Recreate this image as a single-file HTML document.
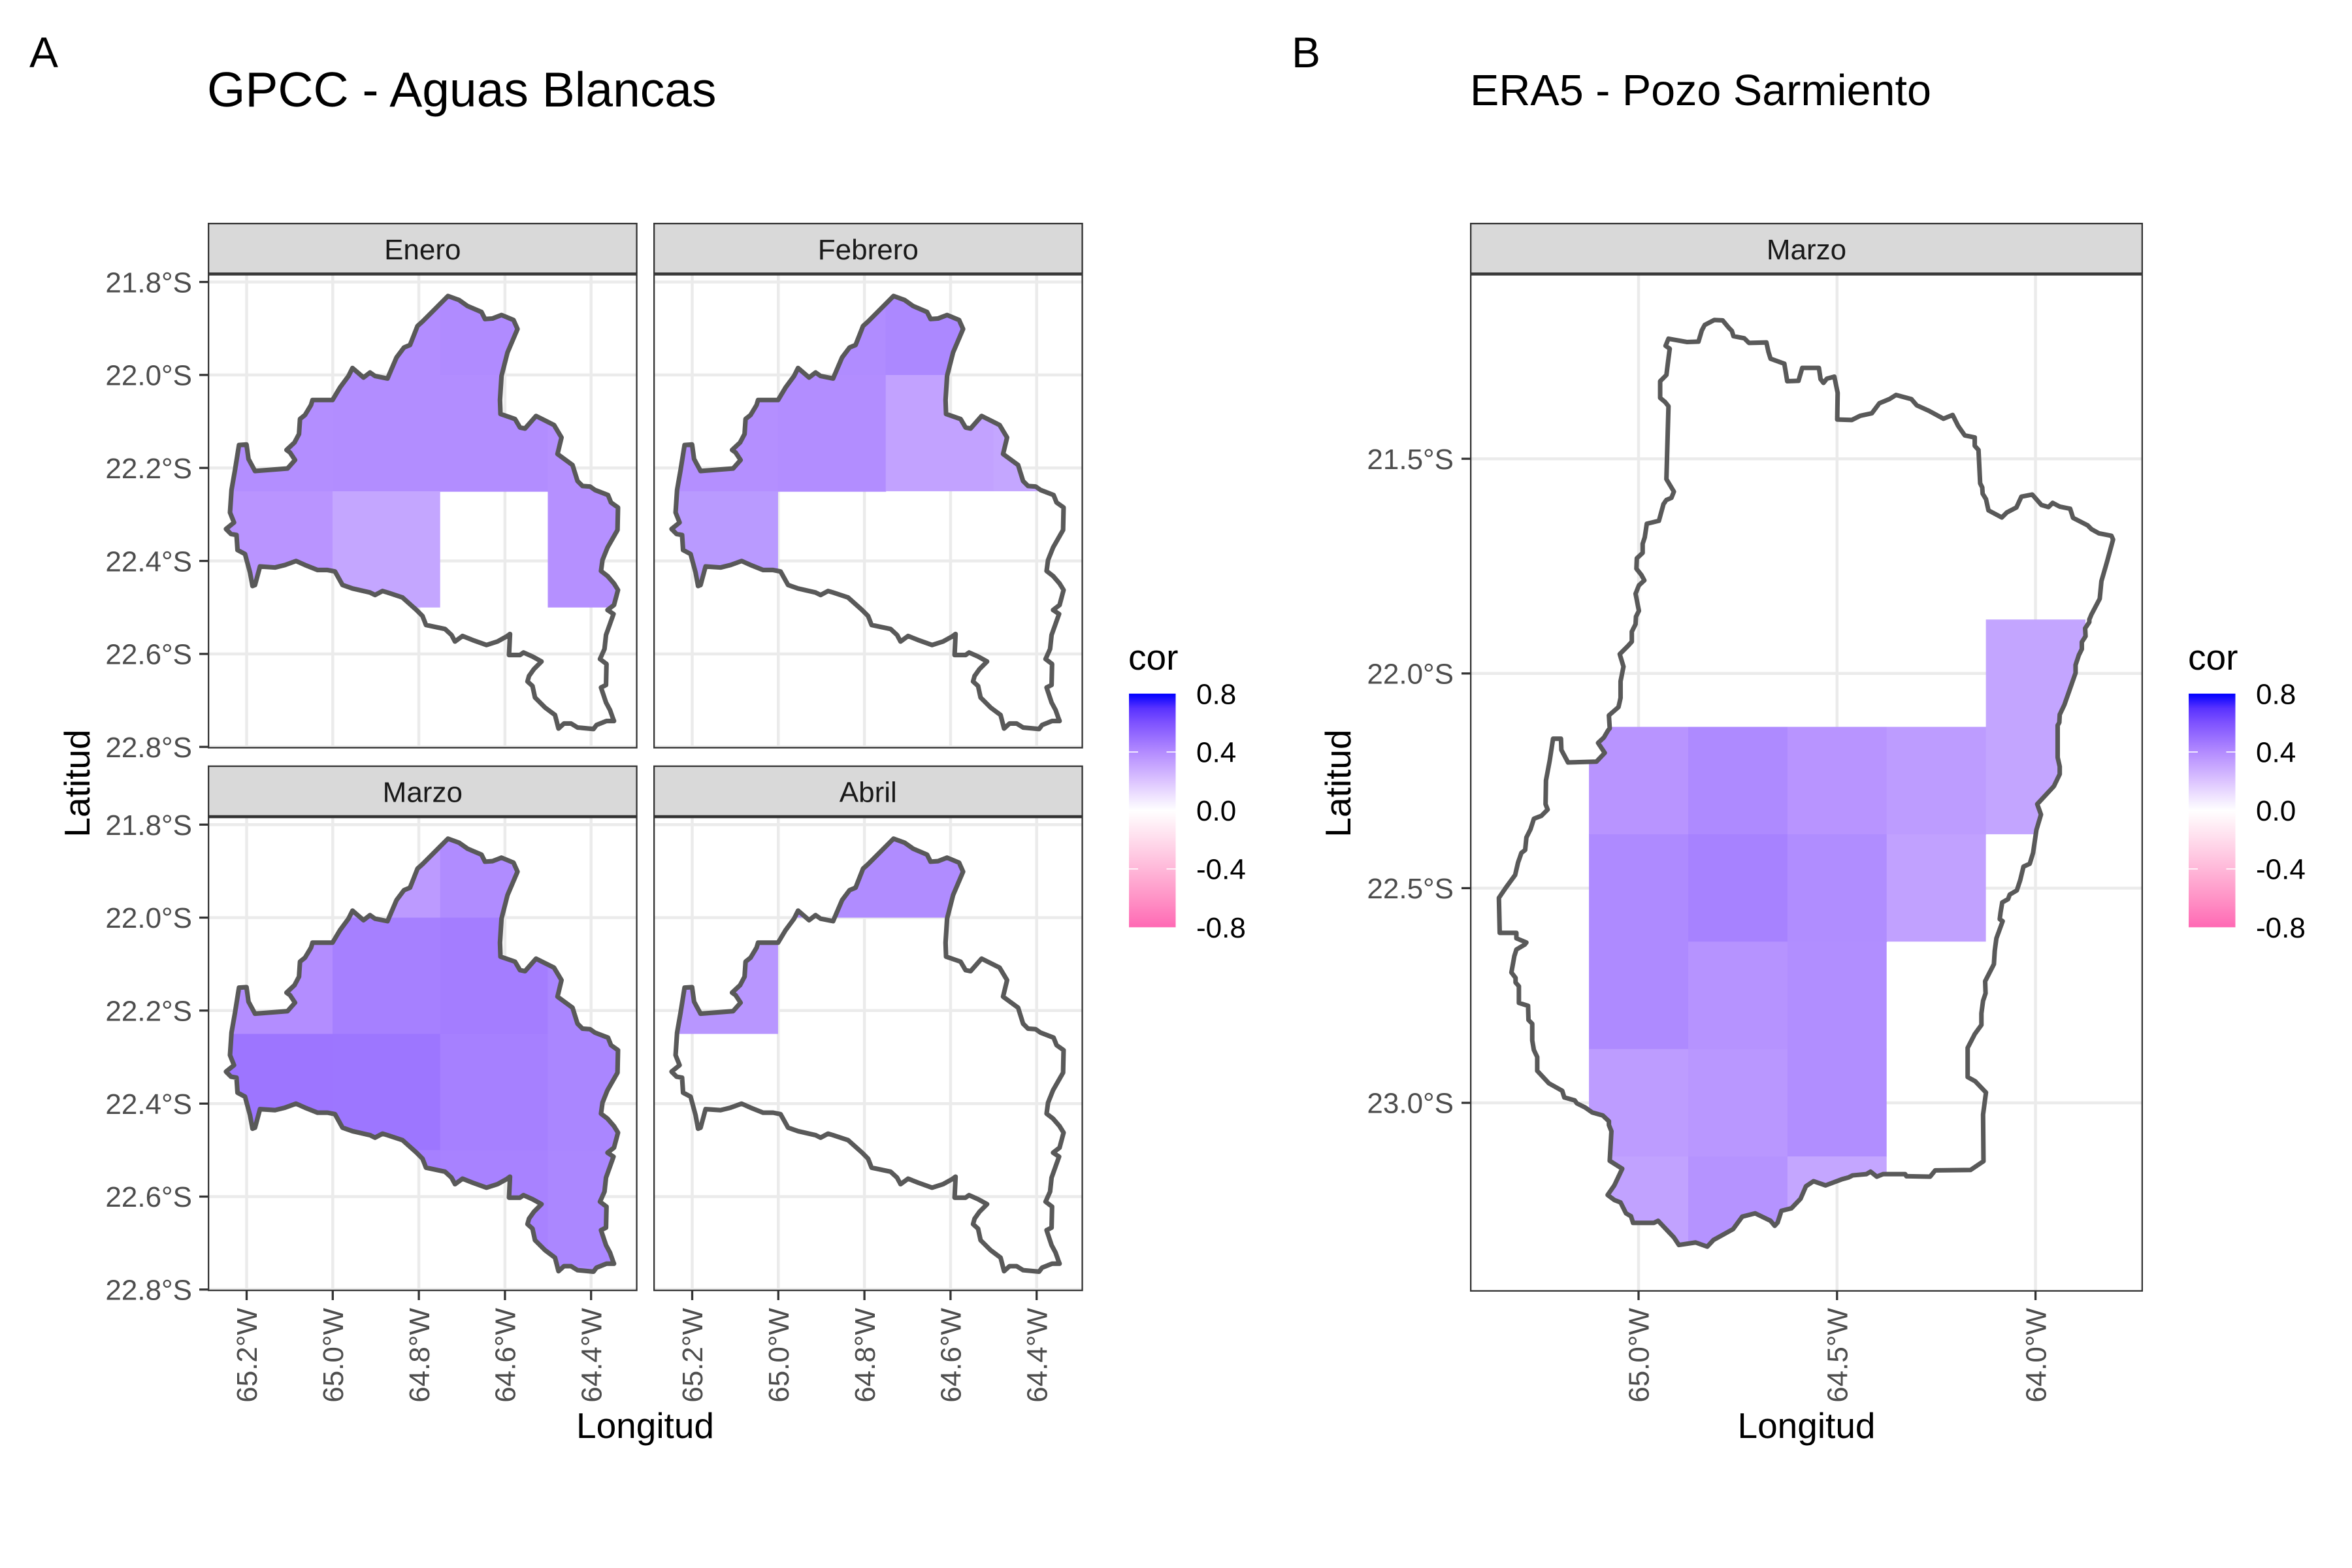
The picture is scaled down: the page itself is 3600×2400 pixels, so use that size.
<!DOCTYPE html>
<html>
<head>
<meta charset="utf-8">
<style>
html,body{margin:0;padding:0;background:#fff;}
svg{display:block;}
</style>
</head>
<body>
<svg xmlns="http://www.w3.org/2000/svg" xmlns:xlink="http://www.w3.org/1999/xlink" width="3600" height="2400" viewBox="0 0 3600 2400" font-family="'Liberation Sans', Arial, sans-serif">
<rect x="0" y="0" width="3600" height="2400" fill="#ffffff"/>
<defs>
  <linearGradient id="lg" x1="0" y1="0" x2="0" y2="1">
    <stop offset="0" stop-color="#0000ff"/>
    <stop offset="0.0625" stop-color="rgb(89,50,255)"/>
    <stop offset="0.125" stop-color="rgb(126,82,255)"/>
    <stop offset="0.25" stop-color="rgb(179,139,255)"/>
    <stop offset="0.375" stop-color="rgb(220,196,255)"/>
    <stop offset="0.4375" stop-color="rgb(238,226,255)"/>
    <stop offset="0.5" stop-color="#ffffff"/>
    <stop offset="0.625" stop-color="rgb(255,220,236)"/>
    <stop offset="0.75" stop-color="rgb(255,184,217)"/>
    <stop offset="0.875" stop-color="rgb(255,147,198)"/>
    <stop offset="1" stop-color="rgb(255,105,180)"/>
  </linearGradient>
  <polygon id="polyA" points="896,592 918,600 935,612 963,624 970,638 985,637 1003,630 1027,640 1035,658 1015,705 1003,752 1000,800 1001,828 1030,838 1040,855 1050,857 1072,832 1088,840 1108,850 1123,875 1115,908 1145,930 1155,962 1165,972 1180,973 1190,980 1216,990 1222,1005 1236,1015 1235,1060 1215,1095 1205,1120 1202,1142 1215,1152 1228,1167 1236,1180 1228,1210 1215,1220 1227,1228 1212,1270 1209,1298 1200,1318 1213,1328 1212,1370 1202,1375 1212,1405 1220,1420 1226,1437 1228,1442 1213,1442 1193,1450 1187,1458 1155,1455 1142,1447 1128,1447 1117,1457 1110,1430 1090,1415 1070,1395 1065,1372 1055,1363 1058,1352 1068,1338 1083,1323 1065,1313 1047,1305 1040,1310 1018,1310 1020,1268 1013,1273 995,1283 973,1290 945,1280 925,1272 910,1283 903,1270 890,1258 852,1250 845,1232 833,1220 805,1195 775,1185 765,1182 750,1190 740,1185 705,1177 685,1170 670,1143 655,1140 635,1140 610,1130 592,1122 570,1130 550,1135 520,1133 510,1170 505,1172 500,1145 490,1108 475,1100 473,1070 462,1068 452,1058 468,1045 460,1025 463,980 470,940 478,890 493,889 497,918 510,942 575,937 590,920 580,905 573,900 589,885 598,868 600,838 610,830 622,810 625,800 665,800 680,775 697,752 705,736 727,755 740,745 750,752 775,757 793,715 808,695 820,690 835,652 845,643 870,618"/>
  <polygon id="polyB" points="555,78 575,79 590,97 597,104 601,117 627,122 638,133 680,132 685,155 690,171 723,183 730,225 757,224 766,193 806,193 810,220 817,229 825,219 843,214 851,253 850,317 885,318 905,308 933,302 951,278 975,268 991,258 1028,268 1041,283 1070,296 1105,315 1127,306 1140,332 1156,355 1180,360 1180,380 1189,390 1193,470 1198,480 1199,495 1207,508 1213,535 1245,552 1257,540 1280,528 1292,502 1318,497 1340,522 1357,527 1367,517 1384,526 1409,531 1416,553 1451,571 1460,580 1478,590 1508,596 1512,605 1497,660 1484,705 1480,747 1460,785 1455,797 1455,803 1445,818 1446,837 1437,851 1437,868 1430,882 1422,906 1422,925 1395,1002 1384,1025 1383,1044 1379,1051 1379,1128 1384,1150 1384,1168 1370,1197 1330,1240 1339,1265 1328,1302 1320,1357 1312,1383 1297,1390 1289,1423 1281,1447 1264,1457 1260,1468 1246,1476 1242,1500 1240,1516 1247,1521 1232,1562 1228,1592 1226,1624 1205,1665 1206,1694 1200,1712 1196,1742 1196,1770 1180,1792 1163,1825 1163,1895 1181,1905 1207,1932 1200,1985 1201,2097 1170,2118 1085,2119 1073,2134 1016,2133 1013,2128 960,2128 945,2134 930,2122 920,2128 887,2131 877,2136 862,2140 822,2155 793,2145 775,2157 762,2187 740,2210 716,2216 707,2244 700,2252 690,2240 653,2222 622,2230 600,2260 553,2286 538,2302 510,2292 470,2298 458,2280 420,2240 410,2245 360,2245 355,2229 343,2222 330,2196 315,2190 299,2178 315,2155 334,2115 304,2096 308,2025 302,2010 302,2001 287,1987 262,1980 245,1968 225,1958 220,1951 195,1944 190,1928 158,1910 130,1880 130,1847 122,1830 118,1807 118,1767 109,1758 108,1724 86,1717 86,1677 78,1668 78,1657 68,1644 75,1605 80,1589 100,1577 104,1572 80,1562 80,1549 40,1549 38,1465 55,1440 77,1410 84,1380 92,1357 101,1350 104,1320 114,1300 122,1275 140,1268 155,1253 150,1240 151,1183 160,1135 168,1083 187,1083 188,1110 204,1140 272,1138 292,1117 276,1093 290,1080 300,1063 304,1058 302,1027 325,1007 330,985 330,945 337,910 328,880 348,860 357,850 357,826 366,808 367,790 374,776 366,735 374,715 387,703 380,690 368,675 369,650 383,637 383,615 388,600 393,567 422,560 433,520 440,510 452,505 458,490 440,460 445,285 437,275 425,265 425,225 440,210 445,170 448,147 438,140 445,123 490,131 517,130 525,103 532,90"/>
  <clipPath id="cpA" clipPathUnits="userSpaceOnUse"><use xlink:href="#polyA"/></clipPath>
  <clipPath id="cpB" clipPathUnits="userSpaceOnUse"><use xlink:href="#polyB"/></clipPath>
  <g id="gridA" stroke="#ebebeb" stroke-width="4.5">
    <line x1="377.5" y1="419.4" x2="377.5" y2="1145.6"/>
    <line x1="509.3" y1="419.4" x2="509.3" y2="1145.6"/>
    <line x1="641.1" y1="419.4" x2="641.1" y2="1145.6"/>
    <line x1="772.9" y1="419.4" x2="772.9" y2="1145.6"/>
    <line x1="904.7" y1="419.4" x2="904.7" y2="1145.6"/>
    <line x1="318" y1="431.6" x2="975.7" y2="431.6"/>
    <line x1="318" y1="573.9" x2="975.7" y2="573.9"/>
    <line x1="318" y1="716.2" x2="975.7" y2="716.2"/>
    <line x1="318" y1="858.6" x2="975.7" y2="858.6"/>
    <line x1="318" y1="1000.9" x2="975.7" y2="1000.9"/>
    <line x1="318" y1="1143.2" x2="975.7" y2="1143.2"/>
  </g>
</defs>

<!-- Titles -->
<text x="45" y="103" font-size="66" fill="#000">A</text>
<text x="1977" y="103" font-size="66" fill="#000">B</text>
<text x="317" y="163" font-size="75" fill="#000">GPCC - Aguas Blancas</text>
<text x="2250" y="161" font-size="66.5" fill="#000">ERA5 - Pozo Sarmiento</text>

<!-- ===== Panel A: Enero ===== -->
<g>
  <rect x="318" y="341" width="657.7" height="78.4" fill="#d9d9d9"/>
  <rect x="318" y="419.4" width="657.7" height="726.2" fill="#ffffff"/>
  <use xlink:href="#gridA"/>
  <g transform="scale(0.76531)">
    <g clip-path="url(#cpA)">
      <rect x="665" y="517.5" width="216" height="233.5" fill="#b28dff"/>
      <rect x="880.3" y="517.5" width="216" height="233.5" fill="#b08bff"/>
      <rect x="449.9" y="750" width="216" height="233.5" fill="#b38eff"/>
      <rect x="665" y="750" width="216" height="233.5" fill="#b28dff"/>
      <rect x="880.3" y="750" width="216" height="233.5" fill="#b28dff"/>
      <rect x="1095.6" y="750" width="216" height="233.5" fill="#b590ff"/>
      <rect x="449.9" y="982.5" width="216" height="232.5" fill="#b994ff"/>
      <rect x="665" y="982.5" width="215.3" height="232.5" fill="#c4a6ff"/>
      <rect x="1095.6" y="982.5" width="216" height="232.5" fill="#b590ff"/>
    </g>
    <use xlink:href="#polyA" fill="none" stroke="#595959" stroke-width="9.3" stroke-linejoin="round"/>
  </g>
  <rect x="319.15" y="342.15" width="655.4" height="76.1" fill="none" stroke="#333333" stroke-width="2.3"/>
  <rect x="319.15" y="420.55" width="655.4" height="723.9" fill="none" stroke="#333333" stroke-width="2.3"/>
  <text x="646.8" y="397" font-size="44" fill="#1a1a1a" text-anchor="middle">Enero</text>
</g>

<!-- ===== Panel A: Febrero ===== -->
<g transform="translate(682,0)">
  <rect x="318" y="341" width="657.7" height="78.4" fill="#d9d9d9"/>
  <rect x="318" y="419.4" width="657.7" height="726.2" fill="#ffffff"/>
  <use xlink:href="#gridA"/>
  <g transform="scale(0.76531)">
    <g clip-path="url(#cpA)">
      <rect x="665" y="517.5" width="216" height="233.5" fill="#b08cff"/>
      <rect x="880.3" y="517.5" width="216" height="233.5" fill="#ac88ff"/>
      <rect x="449.9" y="750" width="216" height="233.5" fill="#b48fff"/>
      <rect x="665" y="750" width="216" height="233.5" fill="#b28dff"/>
      <rect x="880.3" y="750" width="216" height="232.5" fill="#c2a2ff"/>
      <rect x="1095.6" y="750" width="216" height="232.5" fill="#c4a6ff"/>
      <rect x="449.9" y="982.5" width="215.1" height="232.5" fill="#b99aff"/>
    </g>
    <use xlink:href="#polyA" fill="none" stroke="#595959" stroke-width="9.3" stroke-linejoin="round"/>
  </g>
  <rect x="319.15" y="342.15" width="655.4" height="76.1" fill="none" stroke="#333333" stroke-width="2.3"/>
  <rect x="319.15" y="420.55" width="655.4" height="723.9" fill="none" stroke="#333333" stroke-width="2.3"/>
  <text x="646.8" y="397" font-size="44" fill="#1a1a1a" text-anchor="middle">Febrero</text>
</g>

<!-- ===== Panel A: Marzo ===== -->
<g transform="translate(0,830.6)">
  <rect x="318" y="341" width="657.7" height="78.4" fill="#d9d9d9"/>
  <rect x="318" y="419.4" width="657.7" height="726.2" fill="#ffffff"/>
  <use xlink:href="#gridA"/>
  <g transform="scale(0.76531)">
    <g clip-path="url(#cpA)">
      <rect x="665" y="517.5" width="216" height="233.5" fill="#bc9aff"/>
      <rect x="880.3" y="517.5" width="216" height="233.5" fill="#b08cff"/>
      <rect x="449.9" y="750" width="216" height="233.5" fill="#b38dff"/>
      <rect x="665" y="750" width="216" height="233.5" fill="#a680ff"/>
      <rect x="880.3" y="750" width="216" height="233.5" fill="#a47dff"/>
      <rect x="1095.6" y="750" width="216" height="233.5" fill="#aa86ff"/>
      <rect x="449.9" y="982.5" width="216" height="233.5" fill="#9d75ff"/>
      <rect x="665" y="982.5" width="216" height="233.5" fill="#9d76ff"/>
      <rect x="880.3" y="982.5" width="216" height="233.5" fill="#a680ff"/>
      <rect x="1095.6" y="982.5" width="216" height="233.5" fill="#aa86ff"/>
      <rect x="665" y="1215" width="216" height="233.5" fill="#a680ff"/>
      <rect x="880.3" y="1215" width="216" height="233.5" fill="#a882ff"/>
      <rect x="1095.6" y="1215" width="216" height="233.5" fill="#ab87ff"/>
      <rect x="880.3" y="1447.5" width="216" height="232.5" fill="#ab87ff"/>
      <rect x="1095.6" y="1447.5" width="216" height="232.5" fill="#ae8bff"/>
    </g>
    <use xlink:href="#polyA" fill="none" stroke="#595959" stroke-width="9.3" stroke-linejoin="round"/>
  </g>
  <rect x="319.15" y="342.15" width="655.4" height="76.1" fill="none" stroke="#333333" stroke-width="2.3"/>
  <rect x="319.15" y="420.55" width="655.4" height="723.9" fill="none" stroke="#333333" stroke-width="2.3"/>
  <text x="646.8" y="397" font-size="44" fill="#1a1a1a" text-anchor="middle">Marzo</text>
</g>

<!-- ===== Panel A: Abril ===== -->
<g transform="translate(682,830.6)">
  <rect x="318" y="341" width="657.7" height="78.4" fill="#d9d9d9"/>
  <rect x="318" y="419.4" width="657.7" height="726.2" fill="#ffffff"/>
  <use xlink:href="#gridA"/>
  <g transform="scale(0.76531)">
    <g clip-path="url(#cpA)">
      <rect x="665" y="517.5" width="216" height="232.5" fill="#b08cff"/>
      <rect x="880.3" y="517.5" width="216" height="232.5" fill="#b08cff"/>
      <rect x="449.9" y="750" width="215.1" height="232.5" fill="#b896ff"/>
    </g>
    <use xlink:href="#polyA" fill="none" stroke="#595959" stroke-width="9.3" stroke-linejoin="round"/>
  </g>
  <rect x="319.15" y="342.15" width="655.4" height="76.1" fill="none" stroke="#333333" stroke-width="2.3"/>
  <rect x="319.15" y="420.55" width="655.4" height="723.9" fill="none" stroke="#333333" stroke-width="2.3"/>
  <text x="646.8" y="397" font-size="44" fill="#1a1a1a" text-anchor="middle">Abril</text>
</g>

<!-- A y axis ticks & labels -->
<g stroke="#333333" stroke-width="3.3">
  <line x1="305" y1="431.6" x2="318" y2="431.6"/>
  <line x1="305" y1="573.9" x2="318" y2="573.9"/>
  <line x1="305" y1="716.2" x2="318" y2="716.2"/>
  <line x1="305" y1="858.6" x2="318" y2="858.6"/>
  <line x1="305" y1="1000.9" x2="318" y2="1000.9"/>
  <line x1="305" y1="1143.2" x2="318" y2="1143.2"/>
  <line x1="305" y1="1262.2" x2="318" y2="1262.2"/>
  <line x1="305" y1="1404.5" x2="318" y2="1404.5"/>
  <line x1="305" y1="1546.8" x2="318" y2="1546.8"/>
  <line x1="305" y1="1689.2" x2="318" y2="1689.2"/>
  <line x1="305" y1="1831.5" x2="318" y2="1831.5"/>
  <line x1="305" y1="1973.8" x2="318" y2="1973.8"/>
</g>
<g font-size="44" fill="#4d4d4d" text-anchor="end">
  <text x="294" y="447.3">21.8°S</text>
  <text x="294" y="589.6">22.0°S</text>
  <text x="294" y="731.9">22.2°S</text>
  <text x="294" y="874.3">22.4°S</text>
  <text x="294" y="1016.6">22.6°S</text>
  <text x="294" y="1158.9">22.8°S</text>
  <text x="294" y="1277.9">21.8°S</text>
  <text x="294" y="1420.2">22.0°S</text>
  <text x="294" y="1562.5">22.2°S</text>
  <text x="294" y="1704.9">22.4°S</text>
  <text x="294" y="1847.2">22.6°S</text>
  <text x="294" y="1989.5">22.8°S</text>
</g>

<!-- A x axis ticks & labels -->
<g stroke="#333333" stroke-width="3.3">
  <line x1="377.5" y1="1976" x2="377.5" y2="1990"/>
  <line x1="509.3" y1="1976" x2="509.3" y2="1990"/>
  <line x1="641.1" y1="1976" x2="641.1" y2="1990"/>
  <line x1="772.9" y1="1976" x2="772.9" y2="1990"/>
  <line x1="904.7" y1="1976" x2="904.7" y2="1990"/>
  <line x1="1059.5" y1="1976" x2="1059.5" y2="1990"/>
  <line x1="1191.3" y1="1976" x2="1191.3" y2="1990"/>
  <line x1="1323.1" y1="1976" x2="1323.1" y2="1990"/>
  <line x1="1454.9" y1="1976" x2="1454.9" y2="1990"/>
  <line x1="1586.7" y1="1976" x2="1586.7" y2="1990"/>
</g>
<g font-size="44" fill="#4d4d4d" text-anchor="end">
  <text transform="translate(393.2,2002) rotate(-90)">65.2°W</text>
  <text transform="translate(525,2002) rotate(-90)">65.0°W</text>
  <text transform="translate(656.8,2002) rotate(-90)">64.8°W</text>
  <text transform="translate(788.6,2002) rotate(-90)">64.6°W</text>
  <text transform="translate(920.4,2002) rotate(-90)">64.4°W</text>
  <text transform="translate(1075.2,2002) rotate(-90)">65.2°W</text>
  <text transform="translate(1207,2002) rotate(-90)">65.0°W</text>
  <text transform="translate(1338.8,2002) rotate(-90)">64.8°W</text>
  <text transform="translate(1470.6,2002) rotate(-90)">64.6°W</text>
  <text transform="translate(1602.4,2002) rotate(-90)">64.4°W</text>
</g>

<text x="987.5" y="2201" font-size="55" fill="#000" text-anchor="middle">Longitud</text>
<text transform="translate(137,1199) rotate(-90)" font-size="55" fill="#000" text-anchor="middle">Latitud</text>

<!-- A legend -->
<text x="1727" y="1025" font-size="55" fill="#000">cor</text>
<rect x="1728" y="1061.7" width="71.5" height="357.6" fill="url(#lg)"/>
<g stroke="#ffffff" stroke-width="1.6">
  <line x1="1728" y1="1151" x2="1742" y2="1151"/><line x1="1785.5" y1="1151" x2="1799.5" y2="1151"/>
  <line x1="1728" y1="1240.5" x2="1742" y2="1240.5"/><line x1="1785.5" y1="1240.5" x2="1799.5" y2="1240.5"/>
  <line x1="1728" y1="1330" x2="1742" y2="1330"/><line x1="1785.5" y1="1330" x2="1799.5" y2="1330"/>
</g>
<g font-size="44" fill="#000">
  <text x="1831" y="1077.4">0.8</text>
  <text x="1831" y="1166.7">0.4</text>
  <text x="1831" y="1256.2">0.0</text>
  <text x="1831" y="1345.7">-0.4</text>
  <text x="1831" y="1435">-0.8</text>
</g>

<!-- ===== Panel B ===== -->
<rect x="2250" y="341" width="1030" height="78.4" fill="#d9d9d9"/>
<rect x="2250" y="419.4" width="1030" height="1557.6" fill="#ffffff"/>
<g stroke="#ebebeb" stroke-width="4.5">
  <line x1="2508" y1="419.4" x2="2508" y2="1977"/>
  <line x1="2811.8" y1="419.4" x2="2811.8" y2="1977"/>
  <line x1="3115.6" y1="419.4" x2="3115.6" y2="1977"/>
  <line x1="2250" y1="702.2" x2="3280" y2="702.2"/>
  <line x1="2250" y1="1030.8" x2="3280" y2="1030.8"/>
  <line x1="2250" y1="1359.4" x2="3280" y2="1359.4"/>
  <line x1="2250" y1="1688" x2="3280" y2="1688"/>
</g>
<g transform="translate(2270,440) scale(0.63776)">
  <g clip-path="url(#cpB)">
    <rect x="1206.8" y="796.9" width="239" height="258.8" fill="#c3a5ff"/>
    <rect x="254.1" y="1054.5" width="239" height="258.8" fill="#b894ff"/>
    <rect x="492.3" y="1054.5" width="239" height="258.8" fill="#ae8aff"/>
    <rect x="730.5" y="1054.5" width="239" height="258.8" fill="#b894ff"/>
    <rect x="968.6" y="1054.5" width="239" height="258.8" fill="#bd9cff"/>
    <rect x="1206.8" y="1054.5" width="239" height="257.8" fill="#c3a5ff"/>
    <rect x="254.1" y="1312.3" width="239" height="258.8" fill="#ae8aff"/>
    <rect x="492.3" y="1312.3" width="239" height="258.8" fill="#a782ff"/>
    <rect x="730.5" y="1312.3" width="239" height="258.8" fill="#b08dff"/>
    <rect x="968.6" y="1312.3" width="238.2" height="257.7" fill="#c1a1ff"/>
    <rect x="254.1" y="1570" width="239" height="258.8" fill="#ae8aff"/>
    <rect x="492.3" y="1570" width="239" height="258.8" fill="#b693ff"/>
    <rect x="730.5" y="1570" width="238.1" height="258.8" fill="#b18eff"/>
    <rect x="254.1" y="1827.8" width="239" height="258.8" fill="#bd9cff"/>
    <rect x="492.3" y="1827.8" width="239" height="258.8" fill="#b997ff"/>
    <rect x="730.5" y="1827.8" width="238.1" height="258.8" fill="#b18eff"/>
    <rect x="254.1" y="2085.6" width="239" height="257.4" fill="#c1a2ff"/>
    <rect x="492.3" y="2085.6" width="239" height="257.4" fill="#b593ff"/>
    <rect x="730.5" y="2085.6" width="238.1" height="257.4" fill="#c4a6ff"/>
  </g>
  <use xlink:href="#polyB" fill="none" stroke="#595959" stroke-width="11" stroke-linejoin="round"/>
</g>
<rect x="2251.15" y="342.15" width="1027.7" height="76.1" fill="none" stroke="#333333" stroke-width="2.3"/>
<rect x="2251.15" y="420.55" width="1027.7" height="1555.3" fill="none" stroke="#333333" stroke-width="2.3"/>
<text x="2765" y="397" font-size="44" fill="#1a1a1a" text-anchor="middle">Marzo</text>

<g stroke="#333333" stroke-width="3.3">
  <line x1="2237" y1="702.2" x2="2250" y2="702.2"/>
  <line x1="2237" y1="1030.8" x2="2250" y2="1030.8"/>
  <line x1="2237" y1="1359.4" x2="2250" y2="1359.4"/>
  <line x1="2237" y1="1688" x2="2250" y2="1688"/>
  <line x1="2508" y1="1976" x2="2508" y2="1990"/>
  <line x1="2811.8" y1="1976" x2="2811.8" y2="1990"/>
  <line x1="3115.6" y1="1976" x2="3115.6" y2="1990"/>
</g>
<g font-size="44" fill="#4d4d4d" text-anchor="end">
  <text x="2225" y="717.9">21.5°S</text>
  <text x="2225" y="1046.5">22.0°S</text>
  <text x="2225" y="1375.1">22.5°S</text>
  <text x="2225" y="1703.7">23.0°S</text>
  <text transform="translate(2523.7,2002) rotate(-90)">65.0°W</text>
  <text transform="translate(2827.5,2002) rotate(-90)">64.5°W</text>
  <text transform="translate(3131.3,2002) rotate(-90)">64.0°W</text>
</g>
<text x="2765" y="2201" font-size="55" fill="#000" text-anchor="middle">Longitud</text>
<text transform="translate(2067,1199) rotate(-90)" font-size="55" fill="#000" text-anchor="middle">Latitud</text>

<!-- B legend -->
<text x="3349" y="1025" font-size="55" fill="#000">cor</text>
<rect x="3350" y="1061.7" width="71.5" height="357.6" fill="url(#lg)"/>
<g stroke="#ffffff" stroke-width="1.6">
  <line x1="3350" y1="1151" x2="3364" y2="1151"/><line x1="3407.5" y1="1151" x2="3421.5" y2="1151"/>
  <line x1="3350" y1="1240.5" x2="3364" y2="1240.5"/><line x1="3407.5" y1="1240.5" x2="3421.5" y2="1240.5"/>
  <line x1="3350" y1="1330" x2="3364" y2="1330"/><line x1="3407.5" y1="1330" x2="3421.5" y2="1330"/>
</g>
<g font-size="44" fill="#000">
  <text x="3453" y="1077.4">0.8</text>
  <text x="3453" y="1166.7">0.4</text>
  <text x="3453" y="1256.2">0.0</text>
  <text x="3453" y="1345.7">-0.4</text>
  <text x="3453" y="1435">-0.8</text>
</g>
</svg>
</body>
</html>
